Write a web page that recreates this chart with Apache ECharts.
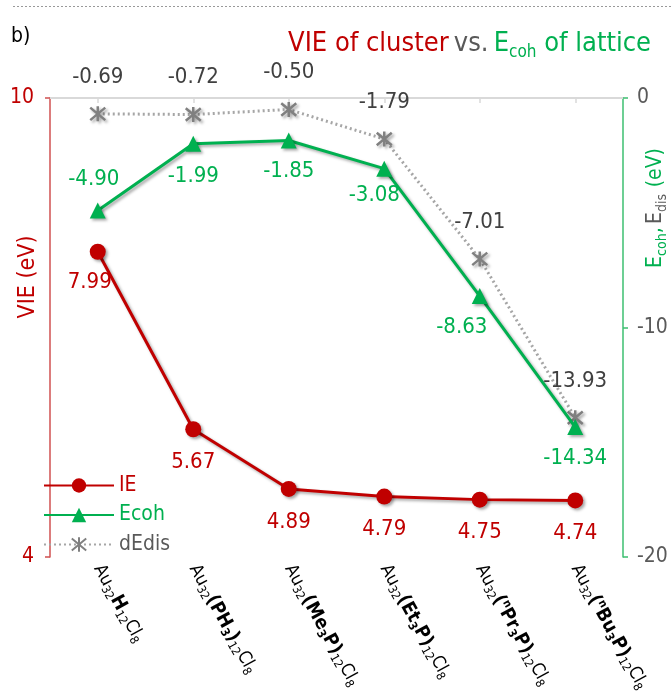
<!DOCTYPE html>
<html><head><meta charset="utf-8">
<script src="https://cdn.jsdelivr.net/npm/echarts@6/dist/echarts.min.js"></script>
<style>html,body{margin:0;padding:0;background:#fff}#c{width:672px;height:693px}</style>
</head><body><div id="c"></div>
<script>
// ---- data ----
const categories = ['H', 'PH3', 'Me3P', 'Et3P', 'nPr3P', 'nBu3P'];
const categoryLabels = [
  'Au{s|32}{b|H}{s|12}Cl{s|8}',
  'Au{s|32}{b|(PH}{bs|3}{b|)}{s|12}Cl{s|8}',
  'Au{s|32}{b|(Me}{bs|3}{b|P)}{s|12}Cl{s|8}',
  'Au{s|32}{b|(Et}{bs|3}{b|P)}{s|12}Cl{s|8}',
  'Au{s|32}{b|(}{bsup|n}{b|Pr}{bs|3}{b|P)}{s|12}Cl{s|8}',
  'Au{s|32}{b|(}{bsup|n}{b|Bu}{bs|3}{b|P)}{s|12}Cl{s|8}'
];
const ieValues = [7.99, 5.67, 4.89, 4.79, 4.75, 4.74];
const ecohValues = [-4.90, -1.99, -1.85, -3.08, -8.63, -14.34];
const dedisValues = [-0.69, -0.72, -0.50, -1.79, -7.01, -13.93];
const seriesNames = ['IE', 'Ecoh', 'dEdis'];
const leftAxisTicks = [4, 10];
const rightAxisTicks = [-20, -10, 0];

// ---- styling ----
const RED = '#C00000', GREEN = '#00B050', GRAY = '#808080', DARK = '#404040';
const FONT = "'Liberation Sans Narrow','DejaVu Sans Condensed',sans-serif";
const shadow = {shadowBlur: 3, shadowOffsetX: 2, shadowOffsetY: 2, shadowColor: 'rgba(0,0,0,0.35)'};
const ecohLabelPos = ['top', 'bottom', 'bottom', 'bottom', 'bottom', 'bottom'];
const ecohLabelOffset = [[-4, 0], [0, 2], [0, 0], [-10, -4], [-18, 0], [0, 0]];
const ieLabelOffset = [[-8, -2], [0, 0], [0, 0], [0, 0], [0, 0], [0, 0]];
const asterisk = 'path://M0,0L10,10M10,0L0,10M5,-1L5,11';

const chart = echarts.init(document.getElementById('c'), null, {renderer: 'canvas'});
chart.setOption({
  animation: false,
  backgroundColor: '#fff',
  textStyle: {fontFamily: FONT},
  title: {
    text: '{r|VIE of cluster} {k|vs.} {g|E}{gs|coh}{g| of lattice}',
    right: 16, top: 22,
    textStyle: {
      fontFamily: FONT, fontWeight: 'normal',
      rich: {
        r: {color: RED, fontSize: 27, lineHeight: 34, fontFamily: FONT, fontWeight: 'normal'},
        k: {color: '#595959', fontSize: 27, lineHeight: 34, fontFamily: FONT, fontWeight: 'normal'},
        g: {color: GREEN, fontSize: 27, lineHeight: 34, fontFamily: FONT, fontWeight: 'normal'},
        gs: {color: GREEN, fontSize: 17, lineHeight: 22, verticalAlign: 'bottom', fontFamily: FONT, fontWeight: 'normal'}
      }
    }
  },
  graphic: [
    {type: 'line', shape: {x1: 13, y1: 6.5, x2: 672, y2: 6.5}, style: {stroke: '#999', lineWidth: 1, lineDash: [2, 2]}},
    {type: 'text', left: 11, top: 26, style: {text: 'b)', font: "21px " + FONT, fill: '#000'}},
    {type: 'text', x: 28, y: 277, rotation: Math.PI / 2,
      style: {text: 'VIE (eV)', font: "23px " + FONT, fill: RED, align: 'center', verticalAlign: 'middle'}},
    {type: 'text', x: 656, y: 208, rotation: Math.PI / 2,
      style: {
        text: '{g|E}{gs|coh}{g|,} {k|E}{ks|dis}  {g|(eV)}',
        align: 'center', verticalAlign: 'middle',
        rich: {
          g: {fill: GREEN, fontSize: 21, lineHeight: 26, fontFamily: FONT},
          gs: {fill: GREEN, fontSize: 14, lineHeight: 16, verticalAlign: 'bottom', fontFamily: FONT},
          k: {fill: '#595959', fontSize: 21, lineHeight: 26, fontFamily: FONT},
          ks: {fill: '#595959', fontSize: 14, lineHeight: 16, verticalAlign: 'bottom', fontFamily: FONT}
        }
      }}
  ],
  legend: {
    orient: 'vertical', left: 38, top: 470,
    itemWidth: 70, itemHeight: 18, itemGap: 8.5,
    textStyle: {fontFamily: FONT, fontSize: 21},
    data: [
      {name: seriesNames[0], textStyle: {color: RED}},
      {name: seriesNames[1], textStyle: {color: GREEN}},
      {name: seriesNames[2], textStyle: {color: '#595959'}}
    ]
  },
  grid: {left: 50, right: 49, top: 98, bottom: 136, containLabel: false, outerBoundsMode: 'none'},
  xAxis: {
    type: 'category', data: categories, boundaryGap: true,
    axisLine: {lineStyle: {color: '#D9D9D9', width: 2}},
    axisTick: {show: true, alignWithLabel: true, length: 5, lineStyle: {color: '#D9D9D9', width: 1.5}},
    axisLabel: {
      rotate: -61, margin: 9, interval: 0,
      fontFamily: FONT, fontSize: 18, color: '#000', lineHeight: 22,
      formatter: (v, i) => categoryLabels[i],
      rich: {
        s: {fontSize: 12, lineHeight: 13, verticalAlign: 'bottom', color: '#000', fontFamily: FONT},
        b: {fontSize: 19, fontWeight: 'bold', lineHeight: 22, color: '#000', fontFamily: FONT},
        bs: {fontSize: 12, fontWeight: 'bold', lineHeight: 13, verticalAlign: 'bottom', color: '#000', fontFamily: FONT},
        bsup: {fontSize: 11, fontWeight: 'bold', lineHeight: 13, verticalAlign: 'top', color: '#000', fontFamily: FONT}
      }
    },
    splitLine: {show: false}
  },
  yAxis: [
    {
      type: 'value', position: 'left',
      min: leftAxisTicks[0], max: leftAxisTicks[1], interval: leftAxisTicks[1] - leftAxisTicks[0],
      axisLine: {show: true, lineStyle: {color: '#D05050', width: 1.5}},
      axisTick: {show: true, length: 5, lineStyle: {color: '#D05050', width: 1.5}},
      axisLabel: {color: RED, fontSize: 21, margin: 16, fontFamily: FONT},
      splitLine: {show: false}
    },
    {
      type: 'value', position: 'right',
      min: rightAxisTicks[0], max: rightAxisTicks[2], interval: 10,
      axisLine: {show: true, lineStyle: {color: '#3CBF70', width: 1.5}},
      axisTick: {show: true, length: 5, lineStyle: {color: '#3CBF70', width: 1.5}},
      axisLabel: {color: '#595959', fontSize: 21, margin: 14, fontFamily: FONT},
      splitLine: {show: false}
    }
  ],
  series: [
    {
      name: seriesNames[0], type: 'line', yAxisIndex: 0, z: 3,
      data: ieValues.map((v, i) => ({value: v, label: {offset: ieLabelOffset[i]}})),
      symbol: 'circle', symbolSize: 16,
      itemStyle: Object.assign({color: RED}, shadow),
      lineStyle: Object.assign({color: RED, width: 3}, shadow),
      label: {show: true, position: 'bottom', distance: 14, color: RED, fontSize: 22, fontFamily: FONT,
        formatter: p => p.value.toFixed(2)}
    },
    {
      name: seriesNames[1], type: 'line', yAxisIndex: 1, z: 4,
      data: ecohValues.map((v, i) => ({value: v, label: {position: ecohLabelPos[i], offset: ecohLabelOffset[i]}})),
      symbol: 'triangle', symbolSize: 16,
      itemStyle: Object.assign({color: GREEN}, shadow),
      lineStyle: Object.assign({color: GREEN, width: 3}, shadow),
      label: {show: true, distance: 12, color: GREEN, fontSize: 22, fontFamily: FONT,
        formatter: p => p.value.toFixed(2)}
    },
    {
      name: seriesNames[2], type: 'line', yAxisIndex: 1, z: 2,
      data: dedisValues,
      symbol: asterisk, symbolSize: 15,
      itemStyle: Object.assign({color: GRAY, borderColor: GRAY, borderWidth: 2.5}, shadow),
      lineStyle: {color: '#A6A6A6', width: 3, type: [2, 3]},
      label: {show: true, position: 'top', distance: 17, color: DARK, fontSize: 22, fontFamily: FONT,
        formatter: p => p.value.toFixed(2)}
    }
  ]
});
</script></body></html>
